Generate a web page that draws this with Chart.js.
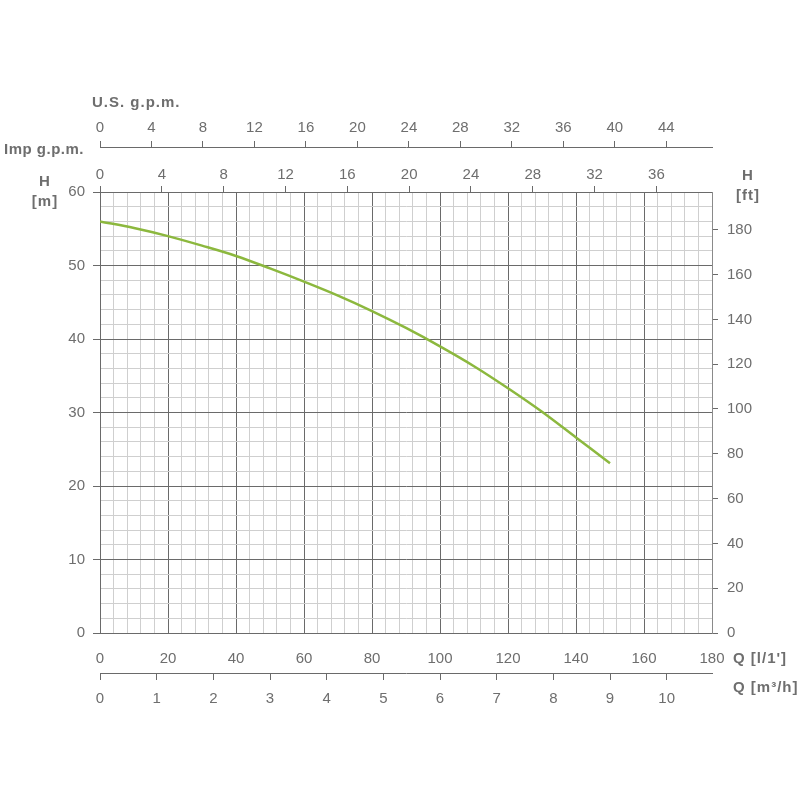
<!DOCTYPE html>
<html>
<head>
<meta charset="utf-8">
<script src="https://cdn.jsdelivr.net/npm/chart.js@4.4.1/dist/chart.umd.min.js"></script>
<style>
  html, body { margin: 0; padding: 0; background: #fff; }
  #wrap { width: 800px; height: 800px; }
</style>
</head>
<body>
<div id="wrap"><canvas id="pump" width="800" height="800"></canvas></div>
<script>
// pump curve, flow in l/min, head in m
const flowLpm = [0, 10, 20, 30, 40, 50, 60, 70, 80, 90, 100, 110, 120, 130, 140, 150];
const headM   = [56, 55.1, 54, 52.7, 51.3, 49.6, 47.8, 45.9, 43.8, 41.5, 39, 36.3, 33.3, 30.1, 26.6, 23.1];

// unit conversions for the extra axes
const LPM_PER_M3H = 1000 / 60;
const LPM_PER_USGPM = 3.78541;
const LPM_PER_IMPGPM = 4.54609;
const FT_PER_M = 3.28084;

const Q_MAX = 180;
const H_MAX = 60;

const GREY = '#6e6e6e';
const MAJOR = '#6a6a6a';
const MINOR = '#cfcfcf';
const tickFont = { family: 'Liberation Sans, Arial, sans-serif', size: 15 };

// fixed axis box sizes so the plot lands where the reference has it
const fixH = h => scale => { scale.height = h; };
const fixW = w => scale => { scale.width = w; };

// unit labels next to the axes
const unitLabels = {
    id: 'unitLabels',
    afterDraw(chart) {
        const ctx = chart.ctx;
        ctx.save();
        ctx.fillStyle = GREY;
        ctx.font = 'bold 15px "Liberation Sans", Arial, sans-serif';
        ctx.textBaseline = 'middle';
        ctx.letterSpacing = '1px';
        ctx.textAlign = 'center';
        ctx.fillText('H', 45, 182);
        ctx.fillText('[m]', 45, 202);
        ctx.fillText('H', 748, 176);
        ctx.fillText('[ft]', 748, 196);
        ctx.textAlign = 'left';
        ctx.fillText('U.S. g.p.m.', 92, 103);
        ctx.fillText("Q [l/1']", 733, 659);
        ctx.fillText('Q [m³/h]', 733, 688);
        ctx.textAlign = 'right';
        ctx.letterSpacing = '0.5px';
        ctx.fillText('Imp g.p.m.', 84, 150);
        ctx.restore();
    }
};

const points = flowLpm.map((q, i) => ({ x: q, y: headM[i] }));

new Chart(document.getElementById('pump'), {
    type: 'line',
    data: {
        datasets: [{
            data: points,
            borderColor: '#8cb83e',
            borderWidth: 2.5,
            pointRadius: 0,
            tension: 0.4,
            cubicInterpolationMode: 'monotone',
            xAxisID: 'x',
            yAxisID: 'y',
        }],
    },
    options: {
        responsive: false,
        animation: false,
        events: [],
        layout: { padding: 0 },
        plugins: { legend: { display: false }, tooltip: { enabled: false } },
        scales: {
            x: {
                type: 'linear', position: 'bottom', weight: 0,
                min: 0, max: Q_MAX,
                afterFit: fixH(40),
                border: { color: MAJOR, width: 1 },
                grid: {
                    drawTicks: false,
                    color: c => (c.tick && c.tick.value % 20 === 0) ? MAJOR : MINOR,
                    lineWidth: 1,
                },
                ticks: {
                    stepSize: 4, autoSkip: false, maxRotation: 0, includeBounds: false,
                    padding: 17, color: GREY, font: tickFont,
                    callback: v => (v % 20 === 0 ? String(v) : ''),
                },
            },
            xm3: {
                type: 'linear', position: 'bottom', weight: 1,
                min: 0, max: Q_MAX / LPM_PER_M3H,
                afterFit: fixH(127),
                border: { color: MAJOR, width: 1 },
                grid: { drawOnChartArea: false, tickLength: 7, tickColor: MAJOR },
                ticks: {
                    stepSize: 1, autoSkip: false, maxRotation: 0, includeBounds: false,
                    padding: 10, color: GREY, font: tickFont,
                },
            },
            ximp: {
                type: 'linear', position: 'top', weight: 0,
                min: 0, max: Q_MAX / LPM_PER_IMPGPM,
                afterFit: fixH(45),
                border: { color: MAJOR, width: 1 },
                grid: { drawOnChartArea: false, tickLength: 6, tickColor: MAJOR },
                ticks: {
                    stepSize: 4, autoSkip: false, maxRotation: 0, includeBounds: false,
                    padding: 2, color: GREY, font: tickFont,
                },
            },
            xus: {
                type: 'linear', position: 'top', weight: 1,
                min: 0, max: Q_MAX / LPM_PER_USGPM,
                afterFit: fixH(147),
                border: { color: MAJOR, width: 1 },
                grid: { drawOnChartArea: false, tickLength: 6, tickColor: MAJOR },
                ticks: {
                    stepSize: 4, autoSkip: false, maxRotation: 0, includeBounds: false,
                    padding: 4, color: GREY, font: tickFont,
                },
            },
            y: {
                type: 'linear', position: 'left',
                min: 0, max: H_MAX,
                afterFit: fixW(100),
                border: { color: MAJOR, width: 1 },
                grid: {
                    color: c => (c.tick && c.tick.value % 10 === 0) ? MAJOR : MINOR,
                    tickColor: c => (c.tick && c.tick.value % 10 === 0) ? MAJOR : 'rgba(0,0,0,0)',
                    tickLength: 7,
                },
                ticks: {
                    stepSize: 2, autoSkip: false, includeBounds: false,
                    padding: 8, color: GREY, font: tickFont,
                    callback: v => (v % 10 === 0 ? String(v) : ''),
                },
            },
            yft: {
                type: 'linear', position: 'right',
                min: 0, max: H_MAX * FT_PER_M,
                afterFit: fixW(88),
                border: { color: '#8a8a8a', width: 1 },
                grid: { drawOnChartArea: false, tickLength: 6, tickColor: MAJOR },
                ticks: {
                    stepSize: 20, autoSkip: false, includeBounds: false,
                    padding: 9, color: GREY, font: tickFont,
                },
            },
        },
    },
    plugins: [unitLabels],
});
</script>
</body>
</html>
